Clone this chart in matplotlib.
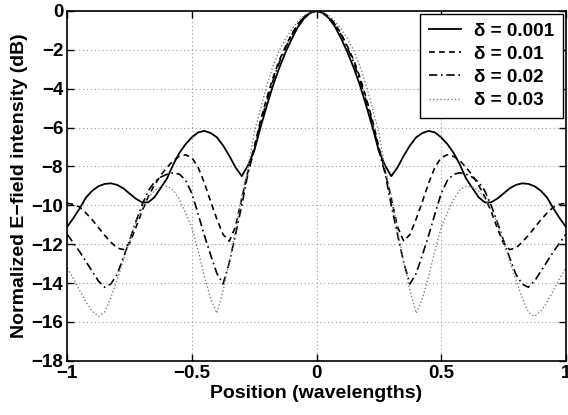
import numpy as np
import matplotlib.pyplot as plt

# left half of the pattern (x from -1 to 0), the picture is symmetric about x = 0
pos_half = [-1.000, -0.975, -0.950, -0.925, -0.900, -0.875, -0.850, -0.825, -0.800,
            -0.775, -0.750, -0.725, -0.700, -0.675, -0.650, -0.625, -0.600, -0.575,
            -0.550, -0.525, -0.500, -0.475, -0.450, -0.425, -0.400, -0.375, -0.350,
            -0.325, -0.300, -0.275, -0.250, -0.225, -0.200, -0.175, -0.150, -0.125,
            -0.100, -0.075, -0.050, -0.025, 0.000]

d0001 = [-11.10, -10.65, -10.15, -9.60, -9.25, -9.02, -8.90, -8.87, -8.95,
         -9.13, -9.40, -9.66, -9.85, -9.85, -9.58, -9.10, -8.62, -7.90,
         -7.30, -6.85, -6.50, -6.25, -6.17, -6.28, -6.50, -6.92, -7.45,
         -8.05, -8.50, -7.95, -7.20, -6.00, -4.90, -3.85, -2.95, -2.15,
         -1.45, -0.83, -0.38, -0.10, 0.00]

d001 = [-9.90, -9.95, -10.10, -10.40, -10.75, -11.15, -11.55, -11.90, -12.20,
        -12.28, -11.95, -11.15, -10.30, -9.55, -8.95, -8.45, -8.05, -7.70,
        -7.48, -7.40, -7.55, -8.05, -8.85, -9.80, -10.70, -11.50, -11.85,
        -11.10, -9.65, -8.25, -7.00, -5.65, -4.50, -3.45, -2.55, -1.85,
        -1.20, -0.68, -0.30, -0.08, 0.00]

d002 = [-11.50, -11.95, -12.40, -12.90, -13.40, -13.90, -14.22, -14.05, -13.55,
        -12.70, -11.80, -10.85, -9.98, -9.25, -8.80, -8.55, -8.40, -8.33,
        -8.40, -8.72, -9.40, -10.45, -11.55, -12.55, -13.50, -14.05, -12.95,
        -11.50, -10.00, -8.35, -7.15, -5.80, -4.65, -3.60, -2.68, -1.92,
        -1.25, -0.70, -0.31, -0.08, 0.00]

d003 = [-13.24, -13.78, -14.40, -14.98, -15.45, -15.72, -15.50, -14.75, -13.84,
        -12.85, -11.85, -10.90, -10.15, -9.62, -9.25, -9.05, -9.02, -9.21,
        -9.70, -10.40, -11.15, -12.35, -13.65, -14.80, -15.55, -14.40, -12.90,
        -11.30, -9.50, -8.10, -6.25, -5.05, -3.85, -2.85, -2.05, -1.45,
        -0.95, -0.53, -0.24, -0.06, 0.00]

labels = ['δ = 0.001', 'δ = 0.01', 'δ = 0.02', 'δ = 0.03']

xticks = [-1, -0.5, 0, 0.5, 1]
xticklabels = ['\u22121', '\u22120.5', '0', '0.5', '1']
yticks = list(range(-18, 1, 2))

plt.rcParams['font.family'] = ['Liberation Sans', 'DejaVu Sans']
plt.rcParams['font.weight'] = 'bold'


def full(half):
    h = np.array(half)
    return np.concatenate([h, h[-2::-1]])


xh = np.array(pos_half)
x = np.concatenate([xh, -xh[-2::-1]])

fig = plt.figure(figsize=(5.68, 4.15), dpi=100)
ax = fig.add_axes([0.1185, 0.1308, 0.8775, 0.8427])

ax.plot(x, full(d0001), '-', color='k', lw=1.3, label=labels[0])
ax.plot(x, full(d001), color='k', lw=1.2, dashes=(3.5, 2.5), label=labels[1])
ax.plot(x, full(d002), color='k', lw=1.2, dashes=(5, 2.2, 1, 2.2), label=labels[2])
ax.plot(x, full(d003), color='0.5', lw=1.0, dashes=(1, 1.6), label=labels[3])

ax.set_xlim(-1, 1)
ax.set_ylim(-18, 0)
ax.set_xticks(xticks)
ax.set_xticklabels(xticklabels)
ax.set_yticks(yticks)
ax.set_yticklabels([str(v).replace('-', '\u2212') for v in yticks])
ax.tick_params(direction='in', top=True, right=True, length=5, width=1,
               labelsize=13.5, pad=3)
for s in ax.spines.values():
    s.set_linewidth(1.2)
ax.grid(True, linestyle=(0, (1, 2.5)), color='0.6', lw=0.8)

ax.set_xlabel('Position (wavelengths)', fontsize=14, fontweight='bold', labelpad=2)
ax.set_ylabel('Normalized E\u2212field intensity (dB)', fontsize=14,
              fontweight='bold', labelpad=2)

leg = ax.legend(loc='upper right', bbox_to_anchor=(1, 1), borderaxespad=0.15,
                fancybox=False, framealpha=1, edgecolor='k',
                prop={'size': 13.6, 'weight': 'bold'},
                handlelength=1.7, handletextpad=0.7, labelspacing=0.32,
                borderpad=0.45)
leg.get_frame().set_linewidth(1.0)

plt.savefig('out.png', dpi=100)
